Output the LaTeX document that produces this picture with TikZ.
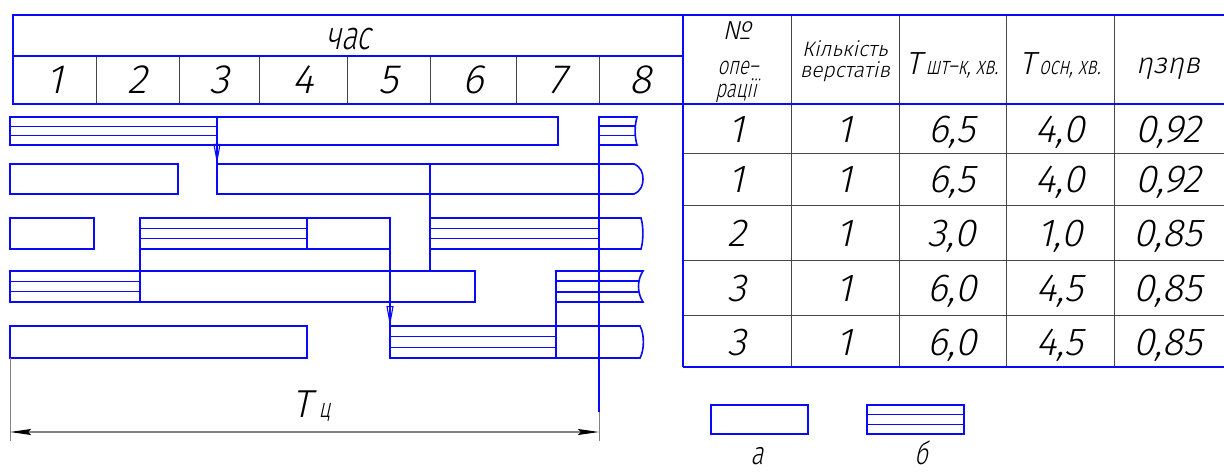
\documentclass[tikz,border=0pt]{standalone}
\usepackage{fontspec}
\setmainfont{Liberation Sans}
\newfontfamily\gd[FakeSlant=0.22]{Fira Sans Light}
\newfontfamily\gw[FakeSlant=0.22,FakeStretch=0.74]{Fira Sans Light}
\usetikzlibrary{arrows.meta}
\definecolor{gblue}{RGB}{10,10,250}
\definecolor{gline}{RGB}{70,70,70}
\definecolor{gdim}{RGB}{130,130,130}

% hatched operation bar: x1, y1, x2, y2 (three equal strips)
\newcommand\hatchbox[4]{%
  \draw[bl] (#1,#2) rectangle (#3,#4);
  \draw[bl] (#1,{(2*#2+#4)/3}) -- (#3,{(2*#2+#4)/3});
  \draw[bl] (#1,{(#2+2*#4)/3}) -- (#3,{(#2+2*#4)/3});}

\begin{document}
\begin{tikzpicture}[x=1pt,y=-1pt,
  bl/.style={draw=gblue,line width=1.6pt},
  gl/.style={draw=gline,line width=0.9pt},
  dl/.style={draw=gdim,line width=1.3pt},
  txt/.style={inner sep=0pt,anchor=base,text=black},
  num/.style={txt,font=\gd\fontsize{39}{39}\selectfont},
  hnum/.style={txt,font=\gd\fontsize{41}{41}\selectfont},
  small/.style={txt,font=\gd\fontsize{21}{21}\selectfont},
  word/.style={txt,font=\gw\fontsize{28}{28}\selectfont},
  flow/.style={bl,line width=1.1pt,-{Triangle[open,length=20pt,width=7pt,line width=1.1pt]}}]
\useasboundingbox (0,0) rectangle (1224,473);
\clip (0,0) rectangle (1224,473);

% ---------- hour scale ----------
\foreach \x in {96,179,259,347,430,516,599}
  \draw[gl] (\x,56) -- (\x,104);
\draw[bl] (13,15) rectangle (683,104);
\draw[bl] (13,56) -- (683,56);
\node[word,font=\gw\fontsize{40}{40}\selectfont] (hour) at (348,50) {час};
\foreach \n/\x in {1/54.5,2/137.5,3/219,4/303,5/388.5,6/473,7/557.5,8/641}
  \node[hnum] (h\n) at (\x,94) {\n};

% ---------- data table ----------
\foreach \x in {791,899,1006,1114}
  \draw[gl] (\x,15) -- (\x,367);
\foreach \y in {153,205,260,315}
  \draw[gl] (683,\y) -- (1226,\y);
\draw[bl] (683,15) -- (1226,15);
\draw[bl] (683,104) -- (1226,104);
\draw[bl] (683,367) -- (1226,367);
\draw[bl] (683,15) -- (683,367);

\node[txt,font=\gd\fontsize{26}{26}\selectfont] (hno) at (737,40) {№};
\node[word,font=\gw\fontsize{25}{25}\selectfont] (hop1) at (738,75) {опе–};
\node[word,font=\gw\fontsize{25}{25}\selectfont] (hop2) at (736,98) {рації};
\node[small] (hk1) at (845,57) {Кількість};
\node[small] (hk2) at (845,78) {верстатів};
\node[txt,font=\gd] (htw) at (952,75)
  {{\fontsize{32}{32}\selectfont T}\kern4pt{\gw\fontsize{25}{25}\selectfont шт–к, хв.}};
\node[txt,font=\gd] (hto) at (1060,75)
  {{\fontsize{32}{32}\selectfont T}\kern4pt{\gw\fontsize{25}{25}\selectfont осн, хв.}};
\node[txt,font=\gd\fontsize{29}{29}\selectfont] (heta) at (1168,74) {ηзηв};

\foreach \r/\y/\a/\b/\c/\d/\e in {1/142.5/1/1/{6,5}/{4,0}/{0,92},
                                  2/193/1/1/{6,5}/{4,0}/{0,92},
                                  3/246.5/2/1/{3,0}/{1,0}/{0,85},
                                  4/301.5/3/1/{6,0}/{4,5}/{0,85},
                                  5/355/3/1/{6,0}/{4,5}/{0,85}}{
  \node[num] (op\r) at (737,\y) {\a};
  \node[num] (mc\r) at (845,\y) {\b};
  \node[num] (tw\r) at (952,\y) {\c};
  \node[num] (to\r) at (1060,\y) {\d};
  \node[num] (et\r) at (1168,\y) {\e};
}

% ---------- schedule bars ----------
% row 1
\hatchbox{10}{117}{217}{145}
\draw[bl] (217,117) rectangle (558,145);
\begin{scope}
  \clip (599,117) -- (637,117) .. controls (634.5,126) and (634.5,136) .. (637,145) -- (599,145) -- cycle;
  \draw[bl] (599,126.3) -- (640,126.3) (599,135.7) -- (640,135.7);
\end{scope}
\draw[bl] (599,117) -- (637,117) .. controls (634.5,126) and (634.5,136) .. (637,145) -- (599,145) -- cycle;

% row 2
\draw[bl] (10,164) rectangle (178,194);
\draw[bl] (217,164) -- (634,164) .. controls (641,167) and (643,173) .. (643,179)
  .. controls (643,185) and (641,191) .. (634,194) -- (217,194) -- cycle;

% row 3
\draw[bl] (10,218) rectangle (94,249);
\hatchbox{140}{218}{307}{249}
\draw[bl] (307,218) rectangle (390,249);
\hatchbox{430}{218}{599}{249}
\draw[bl] (599,218) -- (641,218) .. controls (643.5,226) and (643.5,241) .. (641,249) -- (599,249);

% row 4
\hatchbox{10}{271}{140}{302}
\draw[bl] (140,271) rectangle (475,302);
\begin{scope}
  \clip (556,271) -- (643,271) .. controls (637,280) and (637,293) .. (643,302) -- (556,302) -- cycle;
  \draw[bl] (556,281.3) -- (646,281.3) (556,291.7) -- (646,291.7);
\end{scope}
\draw[bl] (556,271) -- (643,271) .. controls (637,280) and (637,293) .. (643,302) -- (556,302) -- cycle;

% row 5
\draw[bl] (10,326) rectangle (307,358);
\hatchbox{390}{326}{556}{358}
\draw[bl] (556,326) -- (640,326) .. controls (644.5,334) and (644.5,350) .. (640,358) -- (556,358);

% ---------- links between operations ----------
\coordinate (l1a) at (217,145);  \coordinate (l1b) at (217,164);
\coordinate (l2a) at (430,164);  \coordinate (l2b) at (430,271);
\coordinate (l3a) at (140,218);  \coordinate (l3b) at (140,302);
\coordinate (l4a) at (390,249);  \coordinate (l4b) at (390,326);
\coordinate (l5a) at (556,271);  \coordinate (l5b) at (556,358);
\coordinate (cyc) at (599,117);  \coordinate (cycb) at (599,412);
\draw[bl] (l1a) -- (l1b);
\draw[flow] ([yshift=-1pt]l1a) -- (l1b);
\draw[bl] (l2a) -- (l2b);
\draw[bl] (l3a) -- (l3b);
\draw[bl] (l4a) -- (l4b);
\draw[flow] ([yshift=-1pt]l4a) -- (l4b);
\draw[bl] (l5a) -- (l5b);
\draw[bl] (cyc) -- (cycb);

% ---------- cycle time dimension ----------
\coordinate (extL) at (10,358);  \coordinate (extLb) at (10,441);
\coordinate (extRb) at (599,441);
\coordinate (dimL) at (10,432);  \coordinate (dimR) at (599,432);
\draw[gdim,line width=1pt] (extL) -- (extLb);
\draw[gdim,line width=1pt] (cycb) -- (extRb);
\draw[dl,{Stealth[length=21pt,width=6pt,inset=3pt,color=black]}-{Stealth[length=21pt,width=6pt,inset=3pt,color=black]}] (dimL) -- (dimR);
\node[txt,anchor=base west,font=\gd] (tc) at (292,417)
  {{\fontsize{39}{39}\selectfont T}\kern7pt{\gw\fontsize{27}{27}\selectfont ц}};

% ---------- legend ----------
\draw[bl] (711,405) rectangle (808,434);
\hatchbox{867}{405}{964}{434}
\node[word,font=\gw\fontsize{32}{32}\selectfont] (la) at (757,464) {а};
\node[word,font=\gw\fontsize{32}{32}\selectfont] (lb) at (921,464) {б};
\end{tikzpicture}
\end{document}
